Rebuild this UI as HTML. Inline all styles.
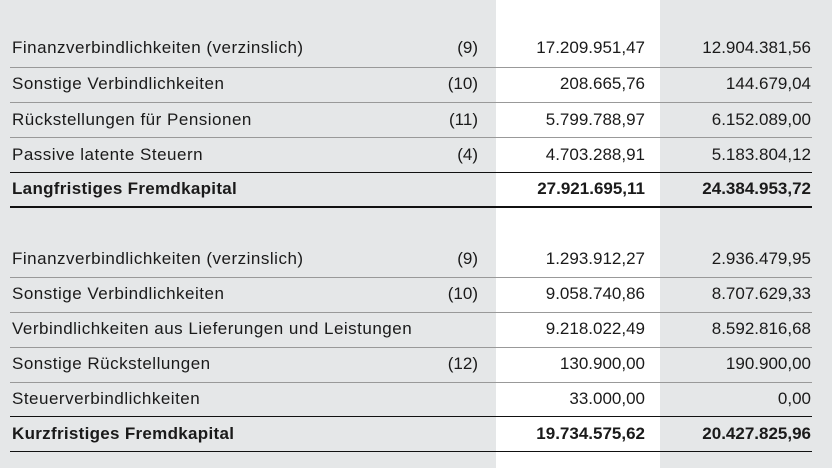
<!DOCTYPE html>
<html><head><meta charset="utf-8"><style>
body{margin:0;width:832px;height:468px;background:#e5e7e8;position:relative;overflow:hidden;font-family:"Liberation Sans",sans-serif;font-size:17px;color:#1a1a1a}
.wc{position:absolute;left:496px;top:0;width:164px;height:468px;background:#fff}
.r{position:absolute;left:0;width:832px;height:24px;line-height:24px}
.r span{position:absolute;white-space:nowrap}
.l{left:12px;letter-spacing:0.5px}.n{right:354px}.a{right:187px}.b{right:21px}
.b1{font-weight:bold}
.b1 .l{letter-spacing:0.3px}
.ln{position:absolute;left:10px;width:802px;height:1px;background:#999}
.k{background:#111}
</style></head><body>
<div class="wc"></div>
<div class="r" style="top:36px"><span class="l">Finanzverbindlichkeiten (verzinslich)</span><span class="n">(9)</span><span class="a">17.209.951,47</span><span class="b">12.904.381,56</span></div>
<div class="ln" style="top:67px"></div>
<div class="r" style="top:72px"><span class="l">Sonstige Verbindlichkeiten</span><span class="n">(10)</span><span class="a">208.665,76</span><span class="b">144.679,04</span></div>
<div class="ln" style="top:102px"></div>
<div class="r" style="top:108px"><span class="l">Rückstellungen für Pensionen</span><span class="n">(11)</span><span class="a">5.799.788,97</span><span class="b">6.152.089,00</span></div>
<div class="ln" style="top:137px"></div>
<div class="r" style="top:143px"><span class="l">Passive latente Steuern</span><span class="n">(4)</span><span class="a">4.703.288,91</span><span class="b">5.183.804,12</span></div>
<div class="ln k" style="top:172px"></div>
<div class="r b1" style="top:177px"><span class="l">Langfristiges Fremdkapital</span><span class="a">27.921.695,11</span><span class="b">24.384.953,72</span></div>
<div class="ln k" style="top:206px;height:2px"></div>

<div class="r" style="top:247px"><span class="l">Finanzverbindlichkeiten (verzinslich)</span><span class="n">(9)</span><span class="a">1.293.912,27</span><span class="b">2.936.479,95</span></div>
<div class="ln" style="top:277px"></div>
<div class="r" style="top:282px"><span class="l">Sonstige Verbindlichkeiten</span><span class="n">(10)</span><span class="a">9.058.740,86</span><span class="b">8.707.629,33</span></div>
<div class="ln" style="top:312px"></div>
<div class="r" style="top:317px"><span class="l">Verbindlichkeiten aus Lieferungen und Leistungen</span><span class="a">9.218.022,49</span><span class="b">8.592.816,68</span></div>
<div class="ln" style="top:347px"></div>
<div class="r" style="top:352px"><span class="l">Sonstige Rückstellungen</span><span class="n">(12)</span><span class="a">130.900,00</span><span class="b">190.900,00</span></div>
<div class="ln" style="top:382px"></div>
<div class="r" style="top:387px"><span class="l">Steuerverbindlichkeiten</span><span class="a">33.000,00</span><span class="b">0,00</span></div>
<div class="ln k" style="top:416px"></div>
<div class="r b1" style="top:422px"><span class="l">Kurzfristiges Fremdkapital</span><span class="a">19.734.575,62</span><span class="b">20.427.825,96</span></div>
<div class="ln k" style="top:451px"></div>
</body></html>
